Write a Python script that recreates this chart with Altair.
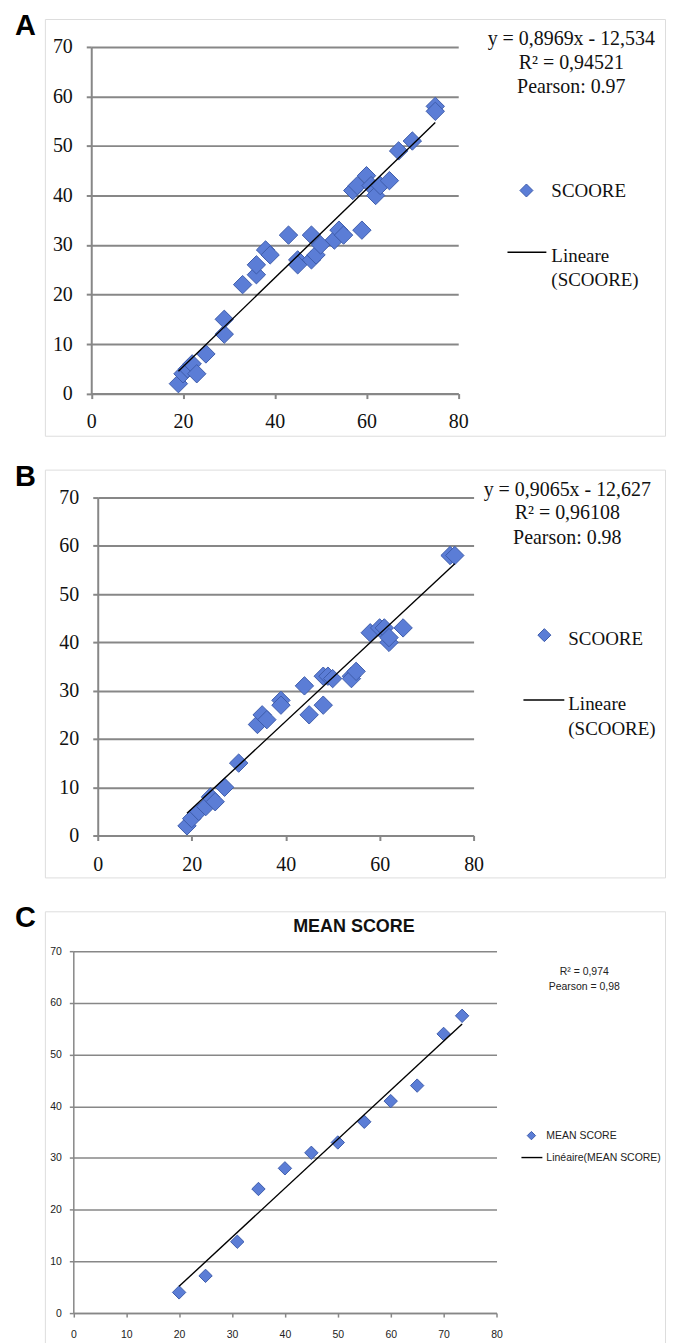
import altair as alt
import pandas as pd

# ---------------- data ----------------
A_X = [19, 20, 21, 22, 23, 25, 29, 29, 33, 36, 36, 38, 39, 43, 45, 45, 48, 48, 49, 50,
       53, 54, 55, 59, 57, 58, 60, 61, 62, 63, 65, 67, 70, 75, 75]
A_Y = [2, 4, 5, 6, 4, 8, 12, 15, 22, 24, 26, 29, 28, 32, 27, 26, 32, 27, 28, 30,
       31, 33, 32, 33, 41, 42, 44, 42, 40, 42, 43, 49, 51, 58, 57]
A_FIT = [0.8969, -12.534]

B_X = [19, 20, 21.5, 23, 24, 25, 27, 30, 34, 35, 36, 39, 39, 44, 45, 48, 48, 49, 50, 54,
       54, 55, 58, 60, 61, 62, 62, 65, 75, 76]
B_Y = [2, 3.5, 5, 6, 8, 7, 10, 15, 23, 25, 24, 28, 27, 31, 25, 27, 33, 33, 32.5, 33,
       32.5, 34, 42, 43, 43, 40, 41, 43, 58, 58]
B_FIT = [0.9065, -12.627]

C_X = [20, 25, 31, 35, 40, 45, 50, 55, 60, 65, 70, 73.5]
C_Y = [4, 7.2, 13.8, 24, 28, 31, 33, 37, 41, 44, 54, 57.5]

Y_TICKS = [0, 10, 20, 30, 40, 50, 60, 70]
X_TICKS_AB = [0, 20, 40, 60, 80]
X_TICKS_C = [0, 10, 20, 30, 40, 50, 60, 70, 80]

A_TEXT = ["y = 0,8969x - 12,534", "R\u00b2 = 0,94521", "Pearson: 0.97"]
B_TEXT = ["y = 0,9065x - 12,627", "R\u00b2 = 0,96108", "Pearson: 0.98"]
C_TEXT = ["R\u00b2 = 0,974", "Pearson = 0,98"]
AB_LEGEND = ["SCOORE", "Lineare", "(SCOORE)"]
C_LEGEND = ["MEAN SCORE", "Lin\u00e9aire(MEAN SCORE)"]
C_TITLE = "MEAN SCORE"
LETTERS = ["A", "B", "C"]

# ---------------- style ----------------
GRID = "#878787"
FILL = "#5B7DD6"
EDGE = "#3E5CAB"
SERIF = "Liberation Serif"
SANS = "Liberation Sans"
W = 622


def txt(s, x, y, **kw):
    return alt.Chart(pd.DataFrame({"t": [s]})).mark_text(**kw).encode(
        x=alt.value(x), y=alt.value(y), text="t:N")


def diamond(x, y, size):
    return alt.Chart(pd.DataFrame({"t": [0]})).mark_point(
        shape="diamond", filled=True, color=FILL, stroke=EDGE, strokeWidth=1,
        opacity=1, size=size).encode(x=alt.value(x), y=alt.value(y))


def hline(x1, x2, y, w=1.5):
    return alt.Chart(pd.DataFrame({"t": [0]})).mark_rule(color="black", strokeWidth=w).encode(
        x=alt.value(x1), x2=alt.value(x2), y=alt.value(y))


def encodings(H, xr, yr, xticks, font, fs, xpad, ypad, lw, tick, lcolor):
    xsc = alt.Scale(domain=[0, 80], range=xr, nice=False, zero=False)
    ysc = alt.Scale(domain=[0, 70], range=yr, nice=False, zero=False)
    common = dict(title=None, labelFont=font, labelFontSize=fs, labelColor=lcolor,
                  domainColor=GRID, domainWidth=lw, tickColor=GRID, tickWidth=lw,
                  tickSize=tick, labelFlush=False, labelOverlap=False)
    xaxis = alt.Axis(values=xticks, orient="bottom", offset=-(H - yr[0]), grid=False,
                     labelPadding=xpad, **common)
    yaxis = alt.Axis(values=Y_TICKS, orient="left", offset=-xr[0], grid=True,
                     gridColor=GRID, gridWidth=lw, labelPadding=ypad, **common)
    return (alt.X("x:Q", scale=xsc, axis=xaxis), alt.Y("y:Q", scale=ysc, axis=yaxis))


def ab_panel(xs, ys, fit, H, xr, yr, letter, eq, eqx, eqy, leg, xpad):
    X, Y = encodings(H, xr, yr, X_TICKS_AB, SERIF, 20, xpad, 14, 2, 5, "#111")
    df = pd.DataFrame({"x": xs, "y": ys})
    fdf = pd.DataFrame({"x": [min(xs), max(xs)]})
    fdf["y"] = fit[0] * fdf["x"] + fit[1]
    pts = alt.Chart(df).mark_point(shape="diamond", filled=True, color=FILL, stroke=EDGE,
                                   strokeWidth=1, opacity=1, size=340).encode(x=X, y=Y)
    line = alt.Chart(fdf).mark_line(color="black", strokeWidth=1.4).encode(x=X, y=Y)
    layers = [pts, line,
              txt(letter, -30, 16, font=SANS, fontSize=29, fontWeight="bold", align="left",
                  baseline="alphabetic", color="black")]
    for s, yy in zip(eq, eqy):
        layers.append(txt(s, eqx, yy, font=SERIF, fontSize=20, align="center",
                          baseline="middle", color="#111"))
    dx, dy, tx, ty1, lx1, lx2, ly, ty2, ty3 = leg
    layers.append(diamond(dx, dy, 170))
    layers.append(txt(AB_LEGEND[0], tx, ty1, font=SERIF, fontSize=19, align="left",
                      baseline="middle", color="#111"))
    layers.append(hline(lx1, lx2, ly))
    layers.append(txt(AB_LEGEND[1], tx, ty2, font=SERIF, fontSize=19, align="left",
                      baseline="middle", color="#111"))
    layers.append(txt(AB_LEGEND[2], tx, ty3, font=SERIF, fontSize=19, align="left",
                      baseline="middle", color="#111"))
    return alt.layer(*layers).properties(width=W, height=H)


HA, HB, HC = 418, 409, 440

panelA = ab_panel(A_X, A_Y, A_FIT, HA, [46.5, 414.6], [375.7, 28], LETTERS[0],
                  A_TEXT, 528, [20, 44, 68],
                  (483, 172, 508, 173, 464, 503, 234, 238, 262), 13)
panelB = ab_panel(B_X, B_Y, B_FIT, HB, [53, 430], [367, 28], LETTERS[1],
                  B_TEXT, 524, [20, 44, 69],
                  (501, 166, 525, 170, 480, 521, 231, 235, 260), 14.5)

# panel C
XC, YC = encodings(HC, [28.5, 453], [403, 40], X_TICKS_C, SANS, 10.5, 12, 8, 1.5, 4, "#222")
dfC = pd.DataFrame({"x": C_X, "y": C_Y})
ptsC = alt.Chart(dfC).mark_point(shape="diamond", filled=True, color=FILL, stroke=EDGE,
                                 strokeWidth=1, opacity=1, size=180).encode(x=XC, y=YC)
lineC = alt.Chart(dfC).transform_regression("x", "y").mark_line(
    color="black", strokeWidth=1.4).encode(x=XC, y=YC)
layersC = [ptsC, lineC,
           txt(LETTERS[2], -30, 16, font=SANS, fontSize=29, fontWeight="bold", align="left",
               baseline="alphabetic", color="black"),
           txt(C_TITLE, 310, 16, font=SANS, fontSize=18, fontWeight="bold", align="center",
               baseline="middle", color="#111"),
           txt(C_TEXT[0], 541, 61, font=SANS, fontSize=10.5, align="center",
               baseline="middle", color="#222"),
           txt(C_TEXT[1], 541, 76, font=SANS, fontSize=10.5, align="center",
               baseline="middle", color="#222"),
           diamond(488, 225, 70),
           txt(C_LEGEND[0], 503, 225, font=SANS, fontSize=10.5, align="left",
               baseline="middle", color="#222"),
           hline(478, 499, 247, 1.4),
           txt(C_LEGEND[1], 503, 247, font=SANS, fontSize=10.5, align="left",
               baseline="middle", color="#222")]
panelC = alt.layer(*layersC).properties(width=W, height=HC)

chart = alt.vconcat(panelA, panelB, panelC, spacing=34, bounds="flush").properties(
    padding={"left": 6, "top": 1, "right": 0, "bottom": 0}
).configure_view(stroke=GRID, strokeWidth=2).configure(background="white")

chart.save("out.html", embed_options={"renderer": "svg", "actions": False})
